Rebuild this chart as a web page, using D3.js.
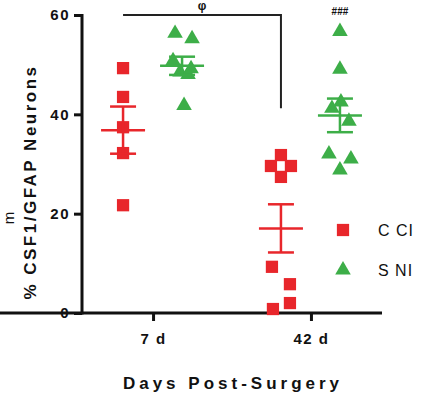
<!DOCTYPE html>
<html>
<head>
<meta charset="utf-8">
<script src="https://cdn.jsdelivr.net/npm/d3@7"></script>
<style>
  body { margin: 0; background: #fff; }
  text { font-family: "Liberation Sans", Arial, sans-serif; }
</style>
</head>
<body>
<div id="plot"></div>
<script>
var width = 425;
var height = 403;

// values
var days = ["7 d", "42 d"];
var groups = ["CCI", "SNI"];
var cci7 = [49.3, 43.5, 37.4, 32.2, 21.7];
var sni7 = [56.1, 55.0, 50.6, 49.0, 48.3, 47.8, 41.6];
var cci42 = [31.8, 29.6, 29.6, 27.4, 9.3, 5.8, 2.0, 0.8];
var sni42 = [56.5, 48.9, 42.3, 41.0, 38.4, 31.8, 30.8, 28.6];
// small horizontal jitter of the dots, as in the scatter
var cci7dx = [0, 0, 0, 0, 0];
var sni7dx = [-7, 10, -9, 9, -2, 6, 2];
var cci42dx = [0, -10, 10, 0, -9, 9, 9, -8];
var sni42dx = [0, 0, 1, -8, 9, -11, 11, 0];
var yTicks = [0, 20, 40, 60];

var red = "#e8262b";
var green = "#3dae48";

var sets = [
  {day: "7 d", group: "CCI", vals: cci7, dx: cci7dx},
  {day: "7 d", group: "SNI", vals: sni7, dx: sni7dx},
  {day: "42 d", group: "CCI", vals: cci42, dx: cci42dx},
  {day: "42 d", group: "SNI", vals: sni42, dx: sni42dx}
];

var svg = d3.select("#plot").append("svg")
  .attr("width", width)
  .attr("height", height);

var y = d3.scaleLinear().domain([0, 60]).range([313, 15]);
var x = d3.scalePoint().domain(days).range([82, 382]).padding(0.45);
var off = d3.scalePoint().domain(groups).range([-30, 29]);
var color = d3.scaleOrdinal().domain(groups).range([red, green]);

// axes
var yAxis = svg.append("g")
  .attr("transform", "translate(82,0)")
  .call(d3.axisLeft(y).tickValues(yTicks).tickSize(8).tickSizeOuter(0).tickPadding(4));
var xAxis = svg.append("g")
  .attr("transform", "translate(0,313)")
  .call(d3.axisBottom(x).tickSize(8).tickSizeOuter(0).tickPadding(12));
[yAxis, xAxis].forEach(function(a) {
  a.selectAll("path, line").attr("stroke", "#111").attr("stroke-width", 3);
  a.selectAll("text").attr("fill", "#111").style("font-size", "15px")
    .style("font-weight", "bold").style("letter-spacing", "1.5px")
    .style("font-family", "'Liberation Sans', Arial, sans-serif");
});
xAxis.select(".domain").attr("d", "M-1.5,0H382");
yAxis.select(".domain").attr("d", "M0,14V314.5");

var sq = d3.symbol().type(d3.symbolSquare).size(150);
var tri = d3.symbol().type(d3.symbolTriangle).size(105);

// points
sets.forEach(function(s) {
  var cx = x(s.day) + off(s.group);
  svg.append("g").selectAll("path")
    .data(s.vals)
    .enter()
    .append("path")
    .attr("d", s.group == "CCI" ? sq : tri)
    .attr("transform", function(d, i) {
      return "translate(" + (cx + s.dx[i]) + "," + (y(d) + (s.group == "CCI" ? 0 : -1)) + ")";
    })
    .attr("fill", color(s.group));

  // mean and sem
  var m = d3.mean(s.vals);
  var sem = d3.deviation(s.vals) / Math.sqrt(s.vals.length);
  var g = svg.append("g").attr("stroke", color(s.group)).attr("stroke-width", 2.5);
  g.append("line").attr("x1", cx - 22).attr("x2", cx + 22).attr("y1", y(m)).attr("y2", y(m));
  g.append("line").attr("x1", cx).attr("x2", cx).attr("y1", y(m + sem)).attr("y2", y(m - sem));
  g.append("line").attr("x1", cx - 13).attr("x2", cx + 13).attr("y1", y(m + sem)).attr("y2", y(m + sem));
  g.append("line").attr("x1", cx - 13).attr("x2", cx + 13).attr("y1", y(m - sem)).attr("y2", y(m - sem));
});

// significance bracket
var bx1 = x("7 d") + off("CCI");
var bx2 = x("42 d") + off("CCI");
svg.append("path")
  .attr("d", "M" + bx1 + "," + y(60) + "H" + bx2 + "V" + y(41.2))
  .attr("fill", "none").attr("stroke", "#222").attr("stroke-width", 2);
svg.append("text").attr("x", (bx1 + bx2) / 2).attr("y", 10)
  .attr("text-anchor", "middle").style("font-size", "12px").style("font-weight", "bold")
  .attr("fill", "#111").text("φ");
svg.append("text").attr("x", x("42 d") + off("SNI")).attr("y", 15)
  .attr("text-anchor", "middle").style("font-size", "10px").style("font-weight", "bold")
  .attr("fill", "#111").text("###");

// axis titles
svg.append("text")
  .attr("transform", "translate(36,182) rotate(-90)")
  .attr("text-anchor", "middle").style("font-size", "17px").style("font-weight", "bold")
  .style("letter-spacing", "2.5px").attr("fill", "#111")
  .text("% CSF1/GFAP Neurons");
svg.append("text")
  .attr("transform", "translate(14,218) rotate(-90)")
  .attr("text-anchor", "middle").style("font-size", "15px").attr("fill", "#111")
  .text("m");
svg.append("text").attr("x", 233).attr("y", 389)
  .attr("text-anchor", "middle").style("font-size", "17px").style("font-weight", "bold")
  .style("letter-spacing", "4px").attr("fill", "#111")
  .text("Days Post-Surgery");

// legend
var legend = svg.append("g").selectAll("g")
  .data(groups)
  .enter()
  .append("g")
  .attr("transform", function(d, i) { return "translate(343," + (230 + i * 40) + ")"; });
legend.append("path")
  .attr("d", function(d) { return d == "CCI" ? sq() : tri(); })
  .attr("fill", function(d) { return color(d); });
legend.append("text").attr("x", 35).attr("y", 6)
  .style("font-size", "16px").style("letter-spacing", "1px").attr("fill", "#111")
  .text(function(d) { return d == "CCI" ? "C CI" : "S NI"; });
</script>
</body>
</html>
